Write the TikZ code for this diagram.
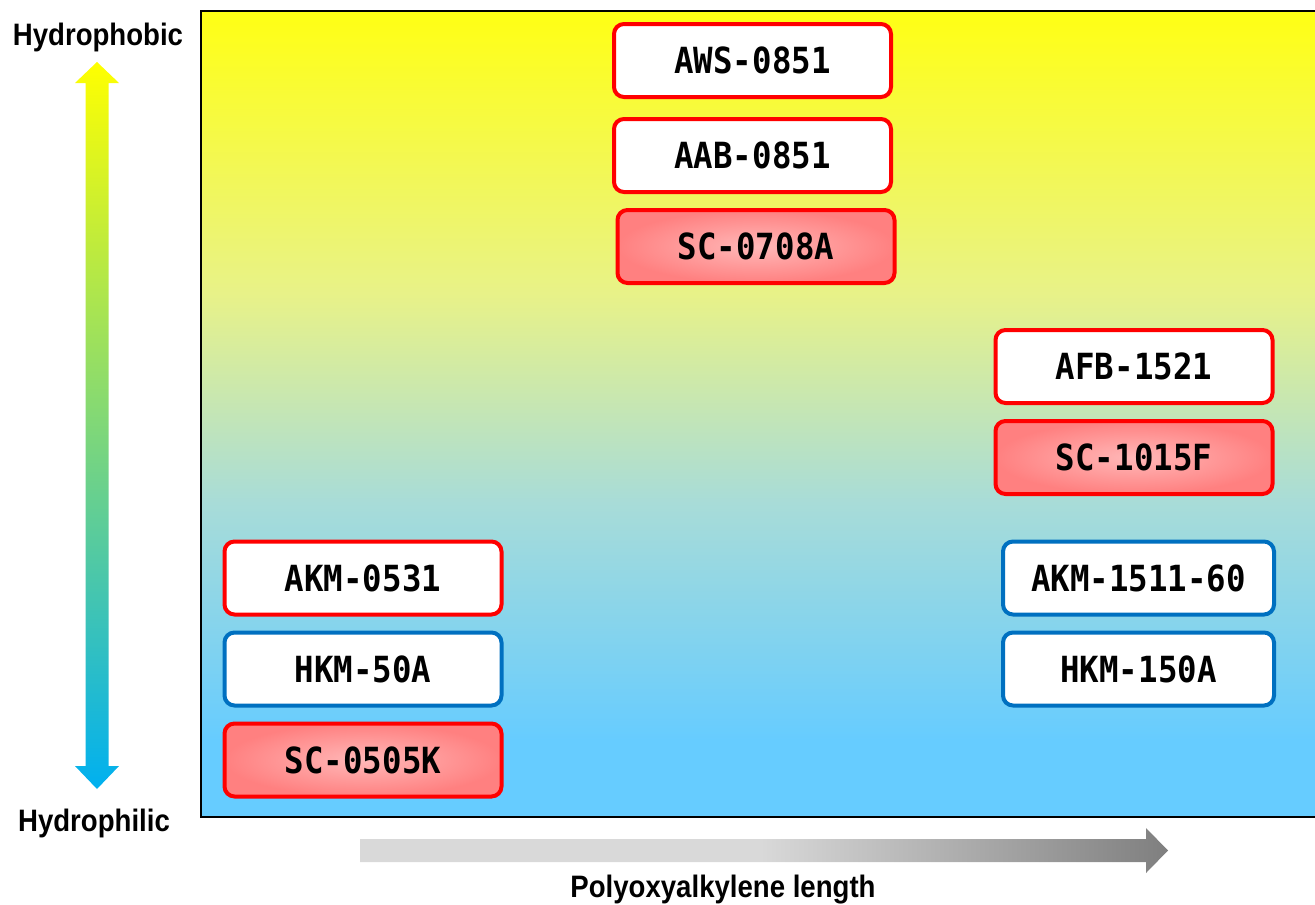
\documentclass[tikz,border=0pt]{standalone}
\usepackage{fontspec}
\newfontfamily\boxfont[FakeStretch=0.9]{DejaVu Sans Mono}
\newfontfamily\axisfont[FakeStretch=0.89]{Liberation Sans}
\usetikzlibrary{positioning,shapes}
\definecolor{bordred}{HTML}{FF0000}
\definecolor{bordblue}{HTML}{0070C0}
\definecolor{pinklight}{HTML}{FFB8B8}
\definecolor{pinkdark}{HTML}{FF8080}
\definecolor{brightyellow}{HTML}{FFFF14}
\definecolor{paleyellow}{HTML}{E8F288}
\definecolor{paleteal}{HTML}{A8DCD8}
\definecolor{skyblue}{HTML}{66CCFF}
\definecolor{arrowyellow}{HTML}{FFFF00}
\definecolor{arrowgreen}{HTML}{92D050}
\definecolor{arrowcyan}{HTML}{00B0F0}
\definecolor{graylight}{HTML}{D9D9D9}
\definecolor{graydark}{HTML}{7F7F7F}
\pgfdeclareverticalshading{backshade}{100bp}{color(0bp)=(skyblue); color(29.75bp)=(skyblue);
  color(44.5bp)=(paleteal); color(57.5bp)=(paleyellow); color(75bp)=(brightyellow); color(100bp)=(brightyellow)}
\pgfdeclarehorizontalshading{lengthshade}{100bp}{color(0bp)=(graylight); color(49.75bp)=(graylight);
  color(75bp)=(graydark); color(100bp)=(graydark)}
\tikzset{
    %Define style for grade boxes
    grade/.style={
    rectangle,
    rounded corners=10pt,
    line width=4pt,
    minimum width=277pt,
    minimum height=73pt,
    font=\boxfont\bfseries\fontsize{36}{36}\selectfont,
    text centered,
    fill=white
   },
   redgrade/.style={grade, draw=bordred},
   bluegrade/.style={grade, draw=bordblue},
   scbox/.style={redgrade, inner color=pinklight, outer color=pinkdark},
    % Define style for axis texts
    axislabel/.style={
    anchor=base,
    inner sep=0pt,
    font=\axisfont\bfseries\fontsize{31}{31}\selectfont
   }
}
\begin{document}
\begin{tikzpicture}[x=1pt,y=-1pt]
		\useasboundingbox (0,0) rectangle (1315,905);
		\clip (0,0) rectangle (1315,905);
		%background
		\shade[shading=backshade, draw=black, line width=2pt] (201,11) rectangle (1330,817);
		%axis arrows
		\shade[top color=arrowyellow, middle color=arrowgreen, bottom color=arrowcyan]
		(97,62) -- (119,83) -- (108.5,83) -- (108.5,766) -- (119,766) -- (97,789)
		-- (75,766) -- (85.5,766) -- (85.5,83) -- (75,83) -- cycle;
		\shade[shading=lengthshade] (360,839) -- (1146,839) -- (1146,828) -- (1168,850.5)
		-- (1146,873) -- (1146,862) -- (360,862) -- cycle;
		\node[axislabel](phobic) at (98,45){Hydrophobic};
		\node[axislabel](philic) at (94,831){Hydrophilic};
		\node[axislabel](lengthlabel) at (723,897){Polyoxyalkylene length};
		%nodes
		\node[redgrade](aws) at (752.5,60.5){AWS-0851};
		\node[redgrade, below=18pt of aws](aab){AAB-0851};
		\node[scbox, below=14pt of aab, xshift=3.5pt](sca){SC-0708A};
		\node[redgrade](afb) at (1134,366.5){AFB-1521};
		\node[scbox, below=14pt of afb](scf){SC-1015F};
		\node[redgrade](akma) at (363,578){AKM-0531};
		\node[bluegrade, below=14pt of akma](hkma){HKM-50A};
		\node[scbox, below=14pt of hkma](sck){SC-0505K};
		\node[bluegrade, minimum width=271pt](akmb) at (1138.5,578){AKM-1511-60};
		\node[bluegrade, minimum width=271pt, below=14pt of akmb](hkmb){HKM-150A};
\end{tikzpicture}
\end{document}
